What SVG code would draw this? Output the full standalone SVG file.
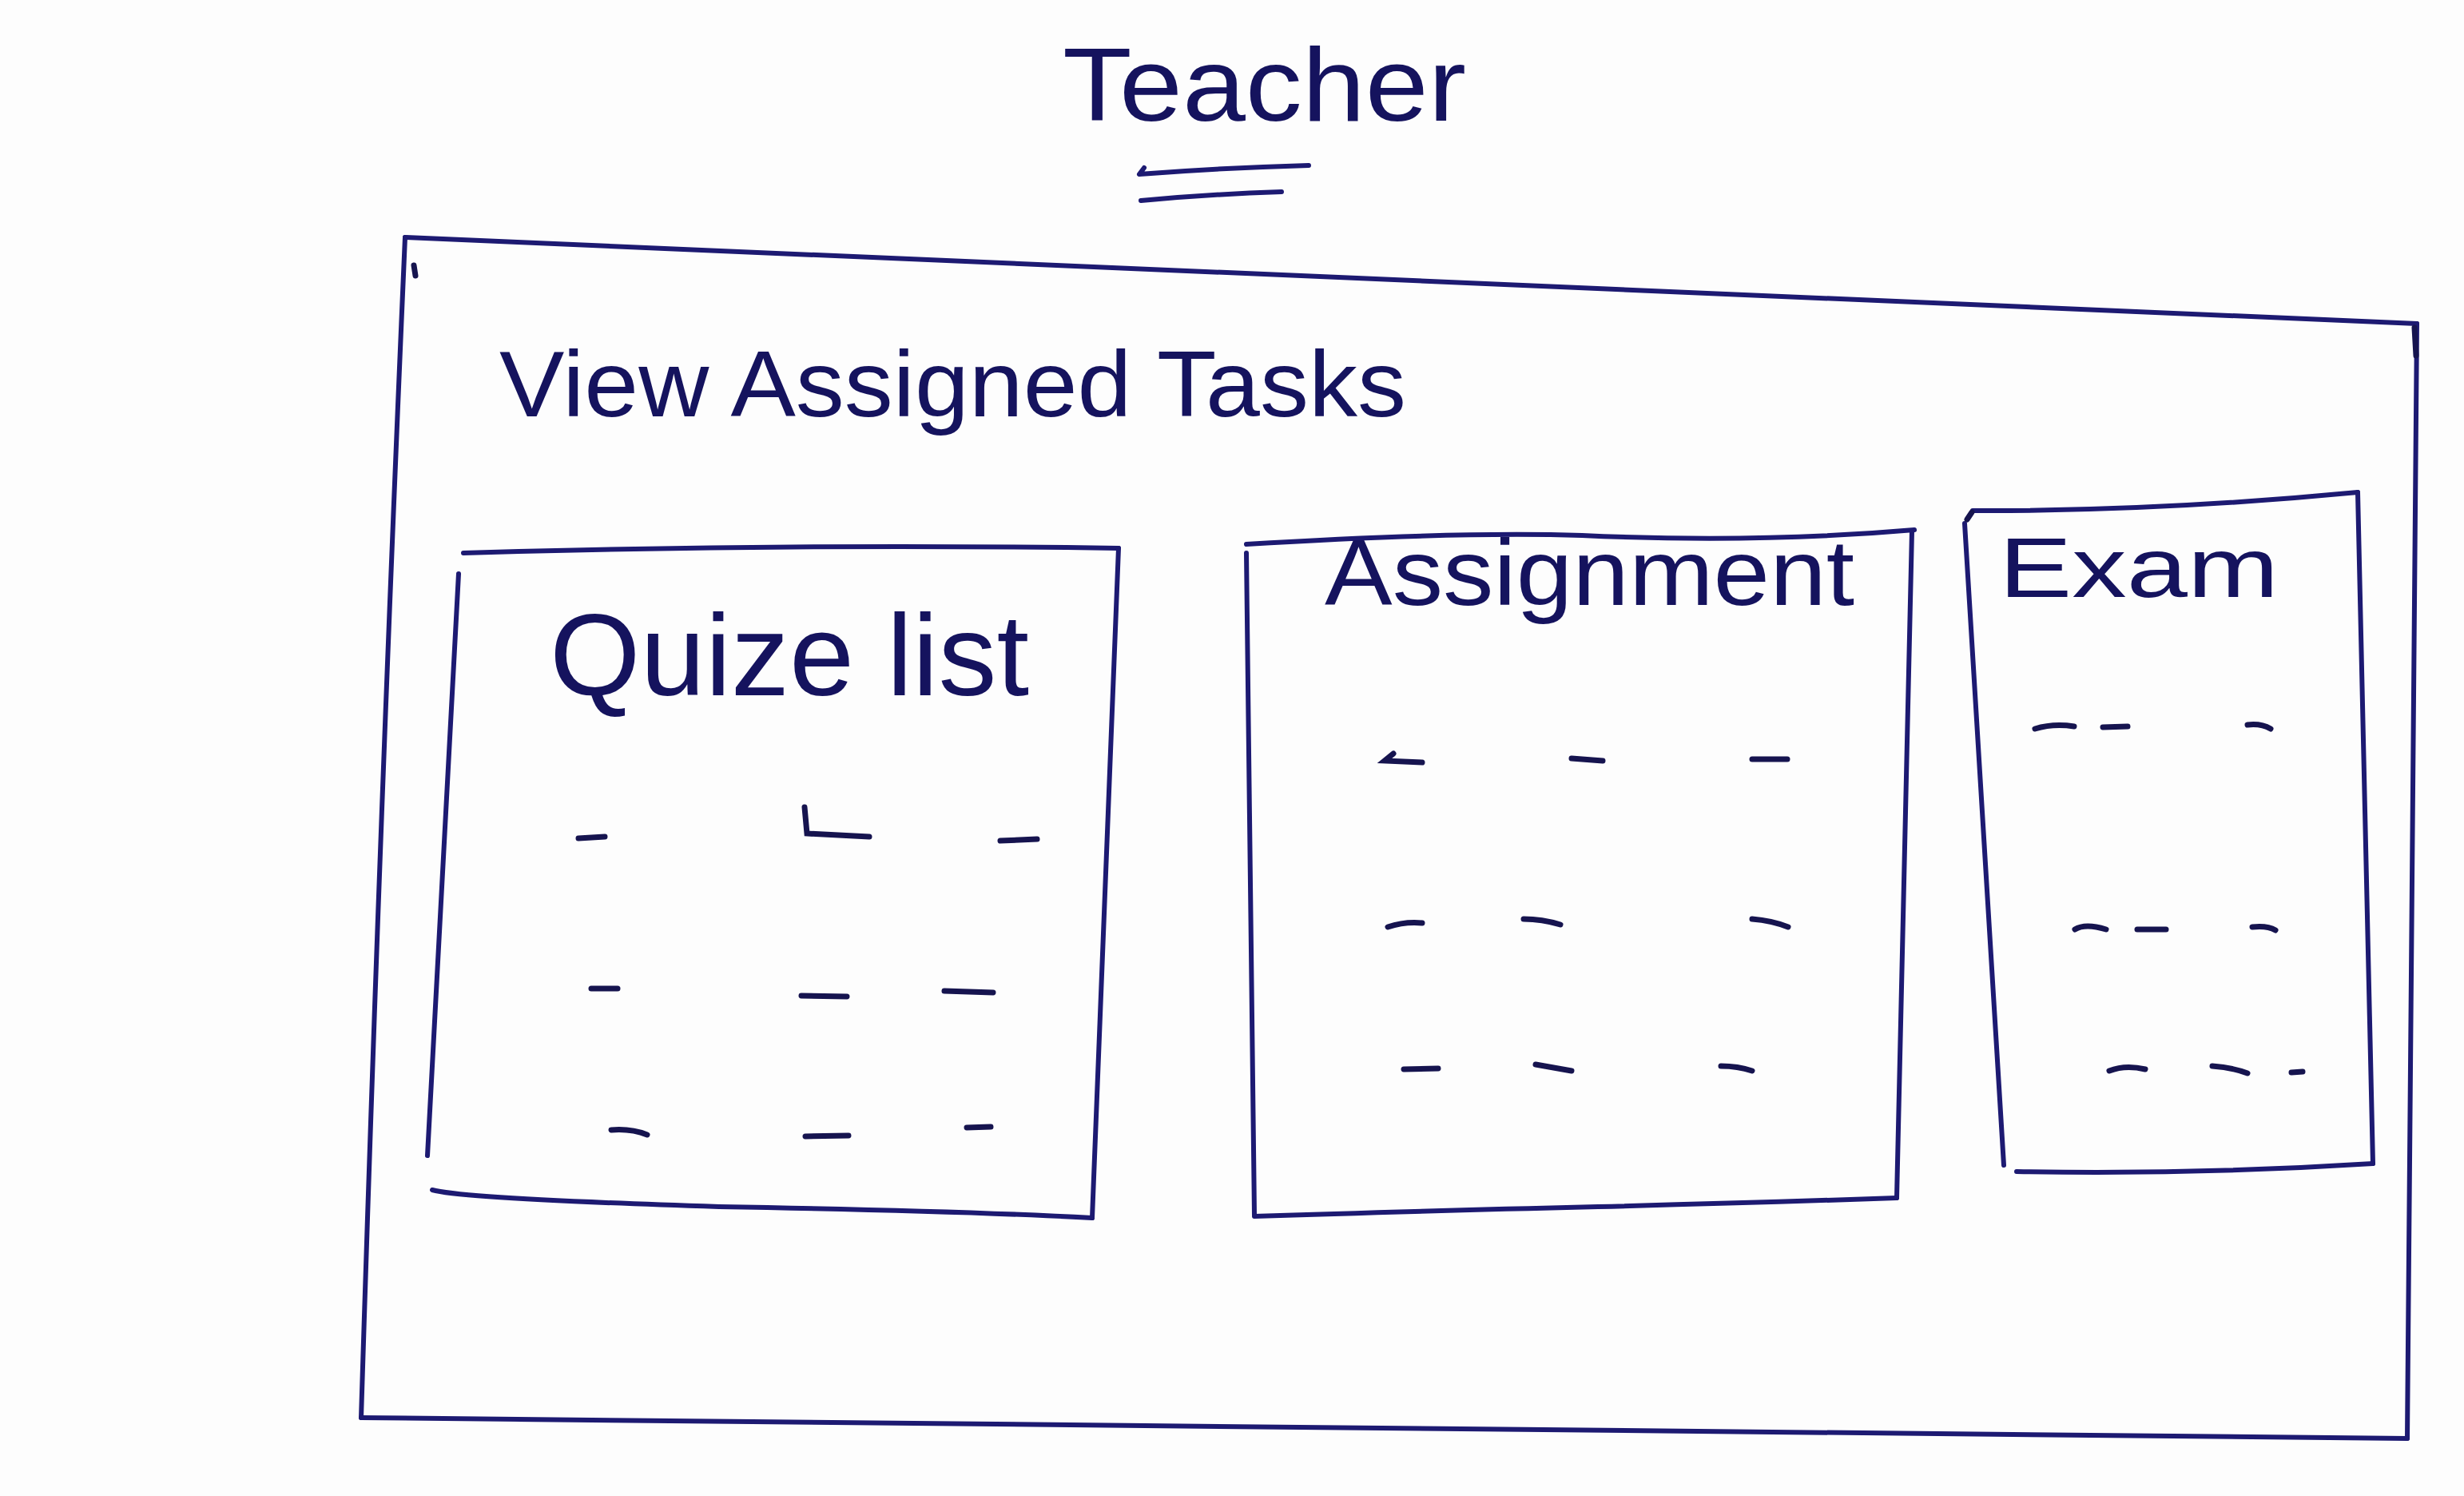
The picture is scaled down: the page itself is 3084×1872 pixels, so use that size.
<svg xmlns="http://www.w3.org/2000/svg" width="3084" height="1872" viewBox="0 0 3084 1872">
  <style>
    .ink { fill: none; stroke: #1d1a72; stroke-width: 6; stroke-linecap: round; stroke-linejoin: round; }
    .dash { fill: none; stroke: #16144f; stroke-width: 7; stroke-linecap: round; }
    .hand { font-family: "Liberation Sans", Arial, sans-serif; fill: #15135e; }
  </style>
  <rect width="3084" height="1872" fill="#fdfdfd"/>

  <!-- page heading with double underline -->
  <g id="title">
    <text class="hand" x="1330" y="151" font-size="130" textLength="505" lengthAdjust="spacingAndGlyphs">Teacher</text>
    <path class="ink" d="M1432 210 L1426 218 Q1530 210 1638 207"/>
    <path class="ink" d="M1428 251 Q1515 243 1604 240"/>
  </g>

  <!-- outer screen frame -->
  <g id="screen">
    <path class="ink" d="M507 297 Q1300 335 3025 405"/>
    <path class="ink" d="M3025 405 Q3020 1100 3013 1800"/>
    <path class="ink" d="M452 1774 Q1500 1790 3013 1800"/>
    <path class="ink" d="M507 297 Q475 1030 452 1774"/>
    <path class="dash" d="M518 332 L520 345"/>
    <path class="dash" d="M3022 410 L3024 445"/>
    <text class="hand" x="625" y="521" font-size="117" textLength="1135" lengthAdjust="spacingAndGlyphs">View Assigned Tasks</text>
  </g>

  <!-- quiz list panel -->
  <g id="quiz-list">
    <path class="ink" d="M580 692 Q990 680 1400 686"/>
    <path class="ink" d="M1400 686 Q1385 1100 1367 1524"/>
    <path class="ink" d="M541 1489 Q580 1500 900 1510 Q1200 1515 1367 1524"/>
    <path class="ink" d="M574 718 Q555 1080 535 1446"/>
    <text class="hand" x="688" y="870" font-size="144" textLength="600" lengthAdjust="spacingAndGlyphs">Quize list</text>
    <path class="dash" d="M724 1049 L757 1047"/>
    <path class="dash" d="M1007 1010 L1010 1043 L1088 1047"/>
    <path class="dash" d="M1252 1052 L1298 1050"/>
    <path class="dash" d="M740 1237 L773 1237"/>
    <path class="dash" d="M1003 1246 L1060 1247"/>
    <path class="dash" d="M1182 1240 L1243 1242"/>
    <path class="dash" d="M765 1414 Q790 1412 810 1420"/>
    <path class="dash" d="M1008 1422 L1062 1421"/>
    <path class="dash" d="M1210 1411 L1240 1410"/>
  </g>

  <!-- assignment panel -->
  <g id="assignment">
    <path class="ink" d="M1560 681 Q1820 665 1980 670 Q2200 680 2396 663"/>
    <path class="ink" d="M2393 665 Q2385 1080 2374 1499"/>
    <path class="ink" d="M1570 1522 Q1750 1516 2000 1510 Q2200 1505 2374 1499"/>
    <path class="ink" d="M1560 692 Q1565 1100 1570 1520"/>
    <text class="hand" x="1658" y="757" font-size="116" textLength="663" lengthAdjust="spacingAndGlyphs">Assignment</text>
    <path class="dash" d="M1744 943 L1733 952 L1780 954"/>
    <path class="dash" d="M1967 949 L2006 952"/>
    <path class="dash" d="M2193 950 L2237 950"/>
    <path class="dash" d="M1737 1160 Q1758 1153 1780 1155"/>
    <path class="dash" d="M1907 1150 Q1930 1150 1953 1157"/>
    <path class="dash" d="M2193 1150 Q2218 1152 2238 1160"/>
    <path class="dash" d="M1757 1338 L1800 1337"/>
    <path class="dash" d="M1922 1332 L1967 1340"/>
    <path class="dash" d="M2154 1334 Q2175 1334 2193 1340"/>
  </g>

  <!-- exam panel -->
  <g id="exam">
    <path class="ink" d="M2469 639 Q2700 640 2951 616"/>
    <path class="ink" d="M2951 616 Q2960 1040 2970 1456"/>
    <path class="ink" d="M2524 1466 Q2750 1470 2970 1456"/>
    <path class="ink" d="M2459 655 Q2485 1060 2508 1458"/>
    <path class="dash" d="M2462 650 L2468 641"/>
    <text class="hand" x="2502" y="747" font-size="106" textLength="350" lengthAdjust="spacingAndGlyphs">Exam</text>
    <path class="dash" d="M2547 912 Q2570 905 2596 909"/>
    <path class="dash" d="M2632 910 L2663 909"/>
    <path class="dash" d="M2813 907 Q2830 905 2842 912"/>
    <path class="dash" d="M2597 1163 Q2610 1155 2636 1163"/>
    <path class="dash" d="M2675 1163 L2711 1163"/>
    <path class="dash" d="M2819 1160 Q2838 1158 2848 1164"/>
    <path class="dash" d="M2640 1340 Q2660 1332 2685 1338"/>
    <path class="dash" d="M2769 1334 Q2795 1336 2813 1343"/>
    <path class="dash" d="M2868 1342 L2882 1341"/>
  </g>
</svg>
